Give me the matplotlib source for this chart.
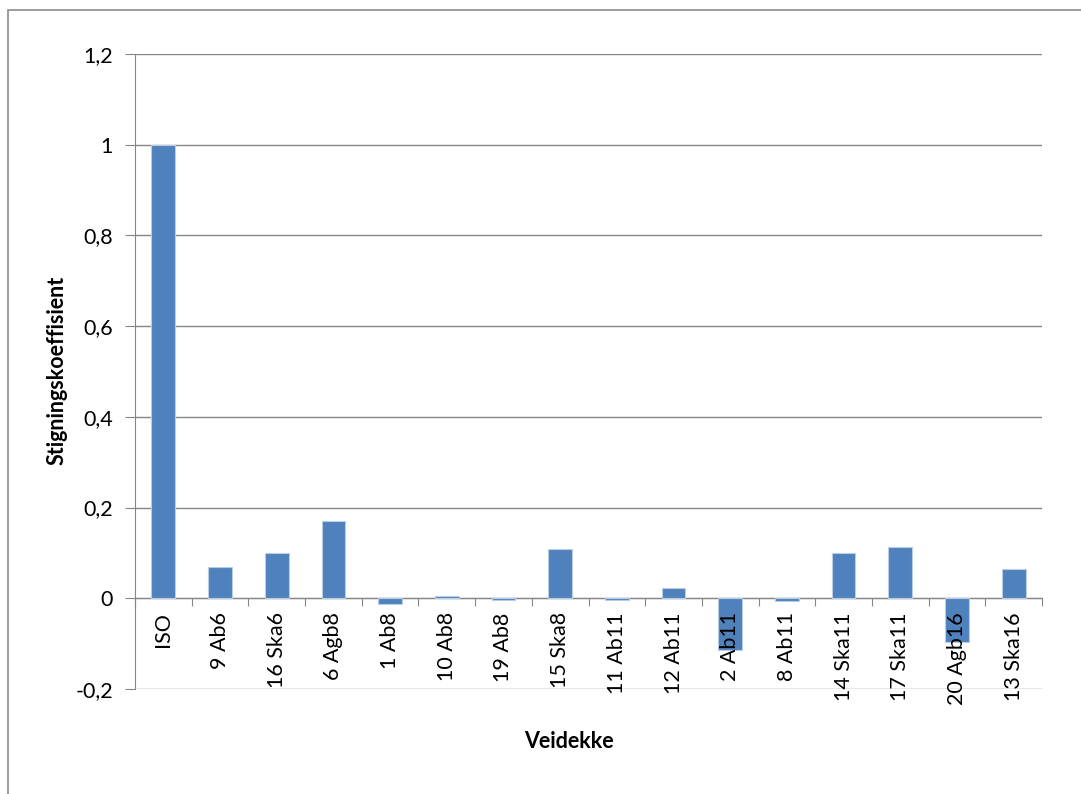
import matplotlib
matplotlib.use("Agg")
import matplotlib.pyplot as plt
import matplotlib.transforms as mtransforms
from matplotlib.patches import Rectangle
from matplotlib.ticker import FuncFormatter

categories = ["ISO", "9 Ab6", "16 Ska6", "6 Agb8", "1 Ab8", "10 Ab8", "19 Ab8",
              "15 Ska8", "11 Ab11", "12 Ab11", "2 Ab11", "8 Ab11", "14 Ska11",
              "17 Ska11", "20 Agb16", "13 Ska16"]
values = [1.0, 0.068, 0.100, 0.171, -0.013, 0.004, -0.004, 0.109, -0.004,
          0.022, -0.115, -0.007, 0.100, 0.112, -0.096, 0.065]
yticks = [-0.2, 0, 0.2, 0.4, 0.6, 0.8, 1.0, 1.2]

plt.rcParams['font.family'] = ['Lato', 'DejaVu Sans']
FS = 15.5

W, H = 1081, 794
fig = plt.figure(figsize=(W / 100, H / 100), dpi=100)
fig.patch.set_facecolor('white')

# outer chart frame
fig.patches.append(Rectangle((8 / W, -0.05), 1.2, 1 - 10 / H + 0.05,
                             transform=fig.transFigure, fill=False,
                             edgecolor='#8C8C8C', linewidth=1.2))

ax = fig.add_axes([135 / W, 1 - 689 / H, (1042 - 135) / W, (689 - 54) / H])
x = list(range(len(categories)))
ax.bar(x, values, width=0.42, color='#4F81BD', edgecolor='#B9CDE5',
       linewidth=0.8, zorder=3)

ax.set_xlim(-0.5, len(categories) - 0.5)
ax.set_ylim(-0.2, 1.2)
ax.set_yticks(yticks)
ax.yaxis.set_major_formatter(FuncFormatter(
    lambda v, p: ('%g' % round(v, 1)).replace('.', ',')))
ax.grid(axis='y', color='#868686', linewidth=1.0, zorder=0)
ax.set_axisbelow(True)

for s in ['top', 'right']:
    ax.spines[s].set_visible(False)
ax.spines['left'].set_color('#868686')
ax.spines['bottom'].set_color('#868686')
ax.spines['bottom'].set_position(('data', 0))

# x ticks at category boundaries
ax.set_xticks([i - 0.5 for i in range(len(categories) + 1)])
ax.set_xticklabels([])
ax.tick_params(axis='x', direction='out', length=6, color='#868686')
ax.tick_params(axis='y', direction='out', length=7, color='#868686',
               labelsize=FS, pad=9)

# category labels drawn above the bars
off = mtransforms.offset_copy(ax.transData, fig=fig, x=0, y=-14 * 0.72,
                              units='points')
for xi, lab in zip(x, categories):
    ax.text(xi, 0, lab, rotation=90, fontsize=FS, ha='center', va='top',
            transform=off, zorder=6, clip_on=False)

fig.text(57 / W, 1 - 370 / H, 'Stigningskoeffisient', rotation=90,
         fontsize=FS, fontweight='bold', ha='center', va='center')
fig.text(569 / W, 1 - 742 / H, 'Veidekke', fontsize=FS, fontweight='bold',
         ha='center', va='center')

fig.savefig('out.png', dpi=100)
